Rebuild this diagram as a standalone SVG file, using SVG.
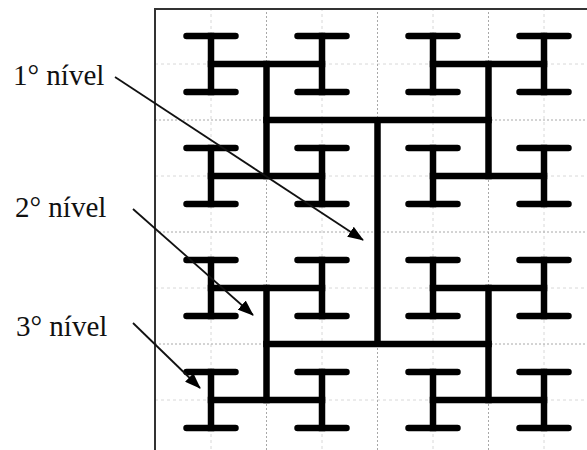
<svg xmlns="http://www.w3.org/2000/svg" width="587" height="450" viewBox="0 0 587 450">
<style>
.gmaj{stroke:#a8a8a8;stroke-width:1;stroke-dasharray:2 2;fill:none}
.gmin{stroke:#d8d8d8;stroke-width:1;stroke-dasharray:3 3;fill:none}
.frame{stroke:#333;stroke-width:2;fill:none}
.conn{stroke:#000;stroke-width:6.5;stroke-linecap:square;fill:none}
.bar{stroke:#000;stroke-width:6.5;stroke-linecap:round;fill:none}
.lbl{font-family:"Liberation Serif","Times New Roman",serif;font-size:29px;fill:#111}
.arrow{stroke:#111;stroke-width:1.8;fill:none;marker-end:url(#ah)}
</style>
<defs>
<marker id="ah" markerWidth="16" markerHeight="12" refX="15" refY="6" orient="auto" markerUnits="userSpaceOnUse">
<path d="M0,0 L16,6 L0,12 Z" fill="#000"/>
</marker>
<g id="I">
<path class="bar" d="M-24.5,-28 H24.5 M-24.5,28 H24.5"/>
<path class="conn" d="M0,-28 V28"/>
</g>
<g id="H3">
<path class="conn" d="M-55.5,0 H55.5"/>
<use href="#I" x="-55.5" y="0"/>
<use href="#I" x="55.5" y="0"/>
</g>
<g id="H2">
<path class="conn" d="M0,-56 V56"/>
<use href="#H3" x="0" y="-56"/>
<use href="#H3" x="0" y="56"/>
</g>
</defs>
<rect width="587" height="450" fill="#fff"/>
<g id="grid">
<path class="gmin" d="M211,8 V450 M322,8 V450 M433,8 V450 M544,8 V450 M155,64 H587 M155,176 H587 M155,288 H587 M155,400 H587"/>
<path class="gmaj" d="M266.5,8 V450 M377.5,8 V450 M488.5,8 V450 M155,120 H587 M155,232 H587 M155,344 H587"/>
</g>
<path class="frame" d="M155,460 V9 H600"/>
<g id="level1">
<path class="conn" d="M377.5,120 V344 M266.5,120 H488.5 M266.5,344 H488.5"/>
</g>
<g id="quadrant-top-left"><use href="#H2" x="266.5" y="120"/></g>
<g id="quadrant-top-right"><use href="#H2" x="488.5" y="120"/></g>
<g id="quadrant-bottom-left"><use href="#H2" x="266.5" y="344"/></g>
<g id="quadrant-bottom-right"><use href="#H2" x="488.5" y="344"/></g>
<g id="label-1"><text class="lbl" x="13" y="85">1° nível</text></g>
<g id="label-2"><text class="lbl" x="15" y="217">2° nível</text></g>
<g id="label-3"><text class="lbl" x="16" y="336">3° nível</text></g>
<g id="connectors">
<line class="arrow" x1="115" y1="77" x2="363" y2="240"/>
<line class="arrow" x1="133" y1="209" x2="253" y2="315"/>
<line class="arrow" x1="133" y1="323" x2="200" y2="388"/>
</g>
</svg>
